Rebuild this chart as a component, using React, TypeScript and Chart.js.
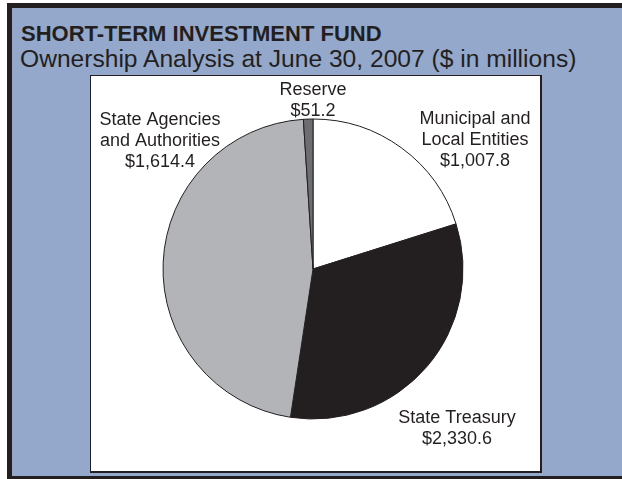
import React, { useEffect, useRef } from "react";
import { Chart, registerables } from "chart.js";

Chart.register(...registerables);

// Categories in clockwise order starting at 12 o'clock
const categories = [
  "Municipal and Local Entities",
  "State Treasury",
  "State Agencies and Authorities",
  "Reserve",
];
// Label lines as printed beside each slice
const labelLines = [
  ["Municipal and", "Local Entities"],
  ["State Treasury"],
  ["State Agencies", "and Authorities"],
  ["Reserve"],
];
// Amounts as printed in the labels ($ millions)
const printedAmounts = [1007.8, 2330.6, 1614.4, 51.2];
// Slice sizes as drawn in the picture
const sliceValues = [1007.8, 1614.4, 2330.6, 51.2];

const titleText = "SHORT-TERM INVESTMENT FUND";
const subtitleText = "Ownership Analysis at June 30, 2007 ($ in millions)";

const sliceColors = ["#ffffff", "#231f20", "#b3b4b7", "#6d6e71"];
const INK = "#231f20";
const BLUE = "#94a8cb";
const FONT = "'Liberation Sans', Arial, Helvetica, sans-serif";

// label anchor offsets, in units of the pie radius, from the pie centre
const labelPlacement = [
  { dx: 1.08, dy: -0.967 },
  { dx: 0.96, dy: 1.027 },
  { dx: -1.02, dy: -0.96 },
  { dx: 0, dy: -1.16 },
];

const fmt = (v: number) =>
  "$" + v.toLocaleString("en-US", { minimumFractionDigits: 1, maximumFractionDigits: 1 });

const labelPlugin = {
  id: "sliceLabels",
  afterDraw(chart: any) {
    const meta = chart.getDatasetMeta(0);
    if (!meta || !meta.data.length) return;
    const arc0 = meta.data[0];
    const cx = arc0.x;
    const cy = arc0.y;
    const r = arc0.outerRadius;
    const ctx = chart.ctx;
    ctx.save();
    ctx.font = `18px ${FONT}`;
    ctx.fillStyle = INK;
    ctx.textAlign = "center";
    ctx.textBaseline = "alphabetic";
    categories.forEach((_, i) => {
      const lines = [...labelLines[i], fmt(printedAmounts[i])];
      const p = labelPlacement[i];
      lines.forEach((line, j) => {
        ctx.fillText(line, cx + p.dx * r, cy + p.dy * r + j * 21);
      });
    });
    ctx.restore();
  },
};

export default function App() {
  const ref = useRef<HTMLCanvasElement | null>(null);

  useEffect(() => {
    if (!ref.current) return;
    const chart = new Chart(ref.current, {
      type: "pie",
      data: {
        labels: categories,
        datasets: [
          {
            data: sliceValues,
            backgroundColor: sliceColors,
            borderColor: INK,
            borderWidth: 1,
            radius: 150,
          } as any,
        ],
      },
      options: {
        responsive: false,
        animation: false,
        devicePixelRatio: 1,
        layout: { padding: { left: 0, right: 5, top: 0, bottom: 9 } },
        plugins: {
          legend: { display: false },
          tooltip: { enabled: false },
          title: { display: false },
        },
      },
      plugins: [labelPlugin],
    });
    return () => chart.destroy();
  }, []);

  return (
    <div
      style={{
        position: "fixed",
        left: 0,
        top: 0,
        width: 622,
        height: 479,
        background: "#ffffff",
        overflow: "hidden",
      }}
    >
      <div
        style={{
          position: "absolute",
          left: 7,
          top: 3,
          width: 615,
          height: 476,
          boxSizing: "border-box",
          background: BLUE,
          borderLeft: `5px solid ${INK}`,
          borderTop: `5px solid ${INK}`,
          borderBottom: `3px solid ${INK}`,
        }}
      />
      <div
        style={{
          position: "absolute",
          left: 21,
          top: 23,
          font: `bold 22px ${FONT}`,
          lineHeight: "22px",
          color: INK,
          whiteSpace: "nowrap",
        }}
      >
        {titleText}
      </div>
      <div
        style={{
          position: "absolute",
          left: 20,
          top: 47,
          font: `24.6px ${FONT}`,
          lineHeight: "24.6px",
          color: INK,
          whiteSpace: "nowrap",
        }}
      >
        {subtitleText}
      </div>
      <div
        style={{
          position: "absolute",
          left: 90,
          top: 75,
          width: 452,
          height: 398,
          boxSizing: "border-box",
          background: "#ffffff",
          borderLeft: `1px solid ${INK}`,
          borderTop: `1px solid ${INK}`,
          borderRight: `2px solid ${INK}`,
          borderBottom: `2px solid ${INK}`,
        }}
      >
        <canvas ref={ref} width={449} height={395} style={{ display: "block" }} />
      </div>
    </div>
  );
}
